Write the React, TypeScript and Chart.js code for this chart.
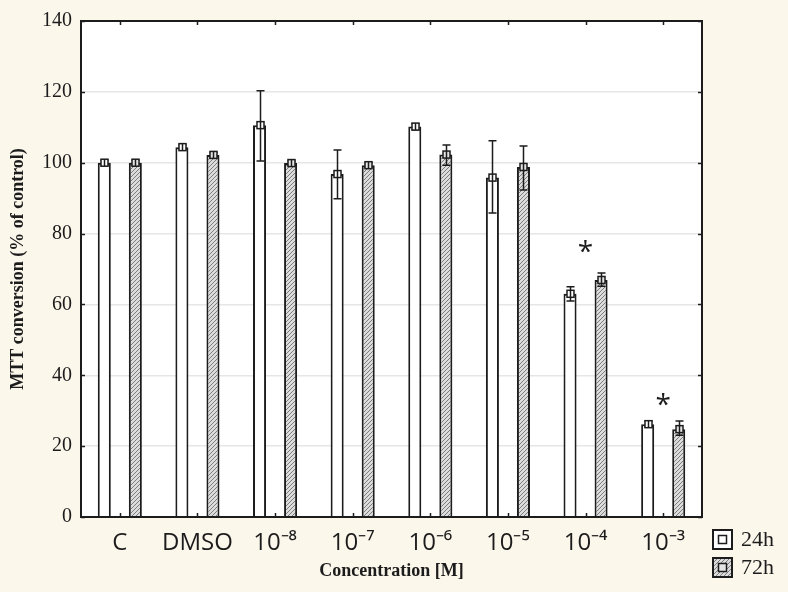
import React, { useEffect, useRef } from "react";
import { Chart, registerables } from "chart.js";

Chart.register(...registerables);

const categories = ["C", "DMSO", "10⁻⁸", "10⁻⁷", "10⁻⁶", "10⁻⁵", "10⁻⁴", "10⁻³"];
const seriesNames = ["24h", "72h"];
const values24h = [100, 104.4, 110.6, 96.8, 110.2, 95.8, 63.0, 26.2];
const low24h = [99.3, 103.8, 100.5, 89.8, 109.3, 85.8, 61.0, 25.4];
const high24h = [100.7, 105.0, 120.3, 103.6, 111.0, 106.2, 65.0, 27.0];
const values72h = [100, 102.2, 99.9, 99.3, 102.3, 98.8, 66.9, 24.8];
const low72h = [99.3, 101.5, 99.3, 98.7, 99.3, 92.3, 65.1, 23.1];
const high72h = [100.7, 102.9, 100.5, 99.9, 105.0, 104.7, 68.9, 27.1];
const asteriskCategories = [6, 7];
const asteriskValues = [76.5, 33.5];
const yMin = 0;
const yMax = 140;
const yStep = 20;

const CREAM = "#fcf7eb";
const INK = "#1c1c1c";

function makeHatch(): CanvasPattern | string {
  const c = document.createElement("canvas");
  c.width = 4;
  c.height = 4;
  const g = c.getContext("2d");
  if (!g) return "#bbbbbb";
  g.fillStyle = "#dcdcdc";
  g.fillRect(0, 0, 4, 4);
  g.strokeStyle = "#7c7c7c";
  g.lineWidth = 1;
  g.beginPath();
  g.moveTo(-1, 5);
  g.lineTo(5, -1);
  g.moveTo(-1, 1);
  g.lineTo(1, -1);
  g.moveTo(3, 5);
  g.lineTo(5, 3);
  g.stroke();
  const p = g.createPattern(c, "repeat");
  return p || "#bbbbbb";
}

export default function App() {
  const ref = useRef<HTMLCanvasElement | null>(null);

  useEffect(() => {
    if (!ref.current) return;
    const hatch = makeHatch();

    const overlay = {
      id: "overlay",
      beforeDraw(chart: any) {
        const { ctx } = chart;
        const { left, right, top, bottom } = chart.chartArea;
        ctx.save();
        ctx.fillStyle = CREAM;
        ctx.fillRect(0, 0, chart.width, chart.height);
        ctx.fillStyle = "#ffffff";
        ctx.fillRect(left, top, right - left, bottom - top);
        ctx.restore();
      },
      afterDatasetsDraw(chart: any) {
        const { ctx } = chart;
        const xs = chart.scales.x;
        const ys = chart.scales.y;
        const { left, right, top, bottom } = chart.chartArea;
        ctx.save();

        const sets: [number[], number[], number[], number, any][] = [
          [low24h, high24h, values24h, 0, "#ffffff"],
          [low72h, high72h, values72h, 1, "#e4e4e4"],
        ];
        sets.forEach(([lo, hi, v, di, fill]) => {
          const meta = chart.getDatasetMeta(di);
          meta.data.forEach((bar: any, i: number) => {
            const cx = Math.round(bar.x) + 0.5;
            const yl = ys.getPixelForValue(lo[i]);
            const yh = ys.getPixelForValue(hi[i]);
            const ym = ys.getPixelForValue(v[i]);
            ctx.strokeStyle = INK;
            ctx.lineWidth = 1.5;
            ctx.beginPath();
            ctx.moveTo(cx, yl);
            ctx.lineTo(cx, yh);
            ctx.moveTo(cx - 4, yl);
            ctx.lineTo(cx + 4, yl);
            ctx.moveTo(cx - 4, yh);
            ctx.lineTo(cx + 4, yh);
            ctx.stroke();
            ctx.fillStyle = fill;
            ctx.fillRect(cx - 3.5, ym - 3.5, 7, 7);
            ctx.strokeRect(cx - 3.5, ym - 3.5, 7, 7);
            ctx.beginPath();
            ctx.moveTo(cx, ym - 3.5);
            ctx.lineTo(cx, ym + 3.5);
            ctx.stroke();
          });
        });

        // frame
        ctx.strokeStyle = INK;
        ctx.lineWidth = 2;
        ctx.strokeRect(left, top, right - left, bottom - top);

        // inner ticks
        ctx.lineWidth = 1.5;
        ctx.beginPath();
        for (let v = yMin; v <= yMax; v += yStep) {
          const py = Math.round(ys.getPixelForValue(v)) + 0.5;
          ctx.moveTo(left, py);
          ctx.lineTo(left + 4, py);
          ctx.moveTo(right, py);
          ctx.lineTo(right - 4, py);
        }
        categories.forEach((_, i) => {
          const px = Math.round(xs.getPixelForValue(i)) + 0.5;
          ctx.moveTo(px, bottom);
          ctx.lineTo(px, bottom - 4);
          ctx.moveTo(px, top);
          ctx.lineTo(px, top + 4);
        });
        ctx.stroke();

        // asterisks
        ctx.fillStyle = INK;
        ctx.font = "28px 'Open Sans'";
        ctx.textAlign = "center";
        ctx.textBaseline = "alphabetic";
        asteriskCategories.forEach((ci, k) => {
          const px = xs.getPixelForValue(ci);
          const py = ys.getPixelForValue(asteriskValues[k]);
          ctx.fillText("*", px, py + 15.5);
        });

        // legend
        const fills = ["#ffffff", hatch];
        const innerFills = ["#ffffff", "#e4e4e4"];
        seriesNames.forEach((name, k) => {
          const bx = right + 11;
          const by = bottom + 13 + k * 28;
          ctx.fillStyle = fills[k];
          ctx.fillRect(bx, by, 19, 19);
          ctx.strokeStyle = INK;
          ctx.lineWidth = 2;
          ctx.strokeRect(bx, by, 19, 19);
          ctx.fillStyle = innerFills[k];
          ctx.fillRect(bx + 5.5, by + 5.5, 8, 8);
          ctx.lineWidth = 1.5;
          ctx.strokeRect(bx + 5.5, by + 5.5, 8, 8);
          ctx.fillStyle = INK;
          ctx.font = "22px 'Liberation Serif'";
          ctx.textAlign = "left";
          ctx.textBaseline = "middle";
          ctx.fillText(name, bx + 28, by + 10.5);
        });
        ctx.restore();
      },
    };

    const chart = new Chart(ref.current, {
      type: "bar",
      data: {
        labels: categories,
        datasets: [
          {
            label: seriesNames[0],
            data: values24h,
            backgroundColor: "#ffffff",
            borderColor: INK,
            borderWidth: 2,
            categoryPercentage: 0.8,
            barPercentage: 0.42,
          },
          {
            label: seriesNames[1],
            data: values72h,
            backgroundColor: hatch as any,
            borderColor: INK,
            borderWidth: 2,
            categoryPercentage: 0.8,
            barPercentage: 0.42,
          },
        ],
      },
      options: {
        responsive: false,
        animation: false,
        layout: { padding: { left: 0, right: 86, top: 21, bottom: 0 } },
        plugins: {
          legend: { display: false },
          tooltip: { enabled: false },
        },
        scales: {
          x: {
            grid: { display: false, drawTicks: false },
            border: { display: false },
            ticks: {
              color: INK,
              font: { family: "'Open Sans'", size: 24 },
              padding: 12,
              maxRotation: 0,
              autoSkip: false,
            },
            title: {
              display: true,
              text: "Concentration [M]",
              color: INK,
              font: { family: "'Liberation Serif'", size: 18, weight: "bold" },
              padding: { top: 0, bottom: 10 },
            },
            afterFit: (s: any) => {
              s.height = 75;
            },
          },
          y: {
            min: yMin,
            max: yMax,
            grid: { color: "#e6e6e6", lineWidth: 1.5, drawTicks: false },
            border: { display: false },
            ticks: {
              stepSize: yStep,
              color: INK,
              font: { family: "'Liberation Serif'", size: 20 },
              padding: 9,
            },
            title: {
              display: true,
              text: "MTT conversion (% of control)",
              color: INK,
              font: { family: "'Liberation Serif'", size: 18, weight: "bold" },
              padding: { top: 8, bottom: 0 },
            },
            afterFit: (s: any) => {
              s.width = 81;
            },
          },
        },
      },
      plugins: [overlay],
    });
    return () => chart.destroy();
  }, []);

  return (
    <div
      style={{
        position: "fixed",
        left: 0,
        top: 0,
        width: 788,
        height: 592,
        background: CREAM,
      }}
    >
      <canvas ref={ref} width={788} height={592} style={{ display: "block" }} />
    </div>
  );
}
